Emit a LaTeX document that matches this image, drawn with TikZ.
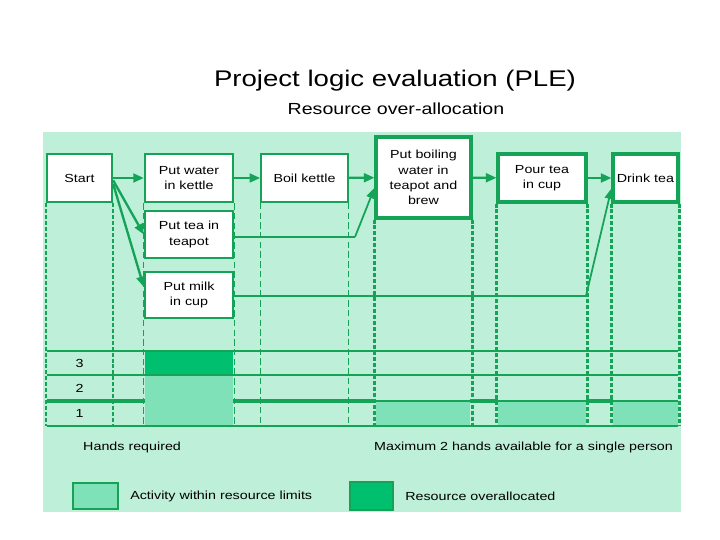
\documentclass[tikz,border=0pt]{standalone}
\usepackage{fontspec}
\setmainfont{Liberation Sans}[FakeStretch=1.22]
\usetikzlibrary{arrows.meta,positioning}
\definecolor{panel}{HTML}{BEEFD9}
\definecolor{pline}{HTML}{15A358}
\definecolor{okfill}{HTML}{7FE1B8}
\definecolor{overfill}{HTML}{00BF6E}

\begin{document}
\begin{tikzpicture}[x=0.03cm,y=-0.03cm,
  every node/.style={font=\fontsize{10}{13}\selectfont},
  task/.style={draw=pline,fill=white,line width=2pt,align=center,inner sep=0pt,minimum height=1.44cm},
  keytask/.style={task,line width=2.6pt},
  softtask/.style={task,line width=1.4pt},
  cutbold/.style={draw=pline,line width=2.2pt,dash pattern=on 3.4pt off 1.7pt},
  cutthin/.style={draw=pline,line width=1pt,dash pattern=on 5.5pt off 2.8pt},
  link/.style={draw=pline,line width=2pt,-{Triangle[length=9pt,width=7.5pt]}},
  lbl/.style={anchor=west,inner sep=0pt}]
  \useasboundingbox (0,0) rectangle (720,540);
  \fill[panel] (43,132) rectangle (681,512);

  \node[font=\fontsize{19.3}{23}\selectfont] (title) at (395,81) {Project logic evaluation (PLE)};
  \node[font=\fontsize{13.7}{16}\selectfont] (subtitle) at (396,109) {Resource over-allocation};

  \coordinate (base) at (45,426);
  \fill[overfill] (145,351) rectangle (233,375);
  \fill[okfill] (145,375) rectangle (233,426);
  \foreach \a/\b in {376/470,498/586,613/678}
    \fill[okfill] (\a,401) rectangle (\b,426);
  \foreach \y in {351,375,426}
    \draw[pline,line width=2.1pt] (47,\y) -- (678,\y);
  \draw[pline,line width=1.1pt] (233,401) -- (678,401);
  \foreach \a/\b in {47/145,233/376,470/498,586/613}
    \draw[pline,line width=2.8pt] (\a,401) -- (\b,401);

  \node[task,minimum width=1.95cm] (start) at (79.5,178) {Start};
  \node[task,minimum width=2.64cm] (water) at (189,178) {Put water\\in kettle};
  \node[softtask,minimum width=2.61cm] (boil) at (304.5,178) {Boil kettle};
  \node[keytask,minimum width=2.85cm,minimum height=2.43cm] (brew) at (423.5,177.5) {Put boiling\\water in\\teapot and\\brew};
  \node[keytask,minimum width=2.64cm] (pour) at (542,178) {Pour tea\\in cup};
  \node[keytask,minimum width=1.95cm] (drink) at (645.5,178) {Drink tea};

  \foreach \n in {start,brew,pour,drink}
    \draw[cutbold] (\n.south west) -- (\n.south west |- base) (\n.south east) -- (\n.south east |- base);
  \foreach \n in {water,boil}
    \draw[cutthin] (\n.south west) -- (\n.south west |- base) (\n.south east) -- (\n.south east |- base);

  \node[task,minimum width=2.64cm,minimum height=1.41cm] (teapot) at (189,234.5) {Put tea in\\teapot};
  \node[task,minimum width=2.64cm,minimum height=1.38cm] (milk) at (189,295) {Put milk\\in cup};

  \coordinate (teabend) at (355,237);
  \coordinate (milkbend) at (586,296);
  \draw[link] (start) -- (water);
  \draw[link] (start.-4) -- (teapot.west);
  \draw[link] (start.-10) -- (milk.170);
  \draw[link] (water) -- (boil);
  \draw[link] (boil) -- (brew);
  \draw[link] (brew) -- (pour);
  \draw[link] (pour) -- (drink);
  \draw[pline,line width=1.2pt] (teapot.east |- teabend) -- (teabend);
  \draw[link,line width=1.5pt] (teabend) -- (brew.192);
  \draw[pline,line width=1.2pt] (milk.east |- milkbend) -- (milkbend);
  \draw[link,line width=1.5pt] (milkbend) -- (drink.197);

  \node (r3) at (79.5,363) {3};
  \node (r2) at (79.5,388) {2};
  \node (r1) at (79.5,413.5) {1};

  \node[lbl] (hands) at (83,447) {Hands required};
  \node[lbl] (limit) at (374,447) {Maximum 2 hands available for a single person};
  \node[draw=pline,fill=okfill,line width=1.8pt,minimum width=1.35cm,minimum height=0.78cm] (okkey) at (95.5,496) {};
  \node[lbl,right=3.3mm of okkey] (oktext) {Activity within resource limits};
  \node[draw=pline,fill=overfill,line width=1.8pt,minimum width=1.29cm,minimum height=0.84cm] (overkey) at (371.5,496) {};
  \node[lbl,right=3.3mm of overkey] (overtext) {Resource overallocated};
\end{tikzpicture}
\end{document}
